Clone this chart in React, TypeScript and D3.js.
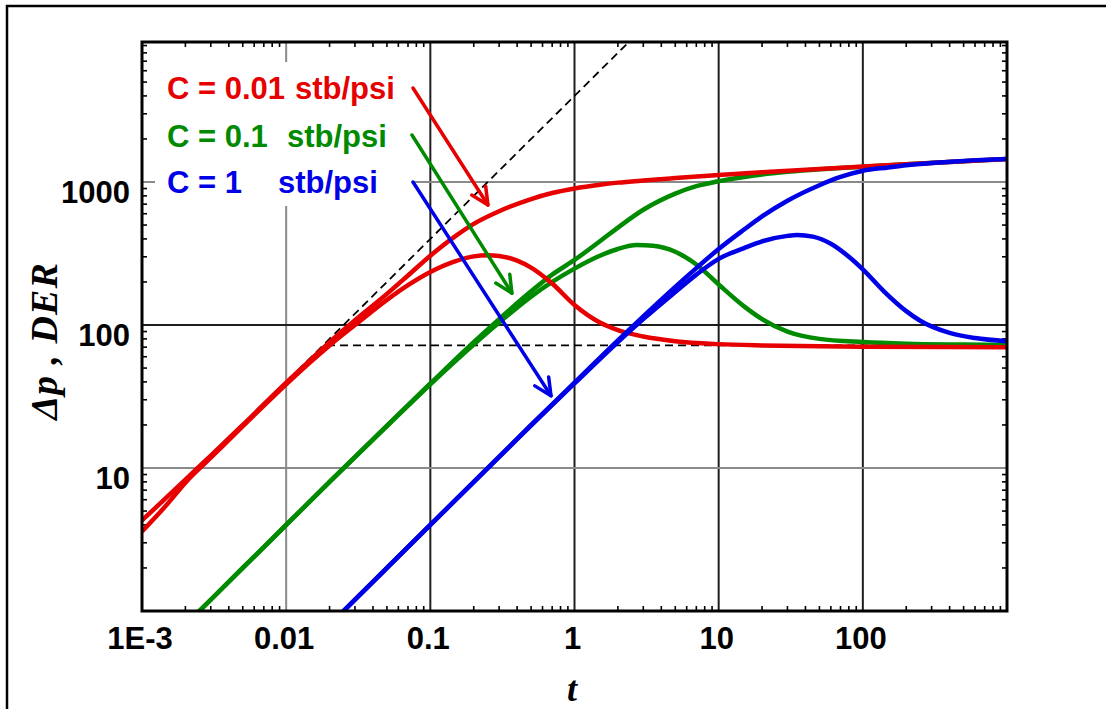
import React from "react";
import * as d3 from "d3";

// time ticks / value ticks
const xMajor = [0.001, 0.01, 0.1, 1, 10, 100];
const xLabels = ["1E-3", "0.01", "0.1", "1", "10", "100"];
const yMajor = [10, 100, 1000];
const yLabels = ["10", "100", "1000"];

// C = 0.01 stb/psi
const redPressure: [number, number][] = [
  [0.001, 4.3], [0.0015, 6.3], [0.002, 8.3], [0.003, 12.2], [0.005, 20], [0.01, 39.5],
  [0.015, 58], [0.02, 76], [0.03, 108], [0.05, 165], [0.07, 222], [0.1, 305], [0.15, 420],
  [0.2, 510], [0.3, 625], [0.5, 760], [0.7, 838], [1, 902], [1.5, 958], [2, 990], [3, 1025],
  [5, 1065], [10, 1118], [20, 1168], [50, 1233], [100, 1282], [200, 1332], [500, 1398], [1000, 1448],
];
const redDerivative: [number, number][] = [
  [0.001, 3.6], [0.0015, 5.6], [0.002, 7.9], [0.003, 11.8], [0.005, 19.6], [0.01, 38.5],
  [0.015, 56], [0.02, 72], [0.03, 100], [0.05, 150], [0.07, 190], [0.1, 235], [0.15, 280],
  [0.2, 302], [0.25, 308], [0.3, 304], [0.4, 282], [0.5, 252], [0.7, 195], [1, 138],
  [1.5, 104], [2, 92], [3, 83], [5, 77], [10, 73.5], [20, 72], [50, 71], [100, 70.5], [1000, 70],
];

// C = 0.1 stb/psi
const greenPressure: [number, number][] = [
  [0.002, 0.8], [0.005, 2], [0.01, 4], [0.02, 8], [0.05, 19.8], [0.1, 39], [0.2, 76],
  [0.3, 110], [0.5, 172], [0.7, 225], [1, 285], [1.5, 385], [2, 480], [3, 640], [5, 830],
  [7, 935], [10, 1015], [15, 1085], [20, 1130], [30, 1180], [50, 1230], [100, 1280],
  [200, 1330], [500, 1396], [1000, 1446],
];
const greenDerivative: [number, number][] = [
  [0.002, 0.8], [0.005, 2], [0.01, 4], [0.02, 8], [0.05, 19.6], [0.1, 38.5], [0.2, 73],
  [0.3, 104], [0.5, 158], [0.7, 200], [1, 248], [1.5, 305], [2, 340], [2.7, 362], [3.5, 358],
  [5, 325], [7, 265], [10, 192], [15, 135], [20, 110], [30, 90], [50, 80], [100, 76],
  [200, 74], [500, 73], [1000, 72.5],
];

// C = 1 stb/psi
const bluePressure: [number, number][] = [
  [0.02, 0.8], [0.05, 2], [0.1, 4], [0.2, 8], [0.5, 20], [1, 39.5], [2, 78], [3, 115],
  [5, 185], [7, 250], [10, 340], [15, 465], [20, 575], [30, 740], [50, 950], [70, 1085],
  [100, 1200], [150, 1265], [200, 1310], [300, 1358], [500, 1405], [1000, 1446],
];
const blueDerivative: [number, number][] = [
  [0.02, 0.8], [0.1, 4], [1, 39], [2, 76], [3, 110], [5, 170], [7, 225], [10, 290],
  [15, 345], [20, 385], [30, 420], [35, 426], [45, 415], [60, 370], [80, 300], [100, 245],
  [140, 172], [200, 125], [250, 107], [400, 88], [600, 81], [1000, 77],
];

// reference lines: unit slope storage and radial flow derivative
const unitSlope: [number, number][] = [[0.012, 48], [2.5, 10000]];
const radialLine: [number, number][] = [[0.0192, 72], [1000, 72]];

// arrows from labels to curves (t, value)
const arrows = [
  { from: [0.0758, 4540], to: [0.251, 690], color: "#e60000" },
  { from: [0.0746, 2130], to: [0.368, 167], color: "#008a00" },
  { from: [0.0758, 1000], to: [0.687, 32], color: "#0000e6" },
];

const RED = "#e60000";
const GREEN = "#008a00";
const BLUE = "#0000e6";

const left = 142, right = 1007, top = 42, bottom = 611;

const x = d3.scaleLog().domain([1e-3, 1e3]).range([left, right]);
const y = d3.scaleLog().domain([1, 9530]).range([bottom, top]);

const line = d3
  .line<[number, number]>()
  .x((d) => x(d[0]))
  .y((d) => y(d[1]))
  .curve(d3.curveMonotoneX);

function minorTicks(lo: number, hi: number) {
  const out: number[] = [];
  for (let e = Math.floor(Math.log10(lo)); e <= Math.ceil(Math.log10(hi)); e++) {
    for (let k = 2; k <= 9; k++) {
      const v = k * Math.pow(10, e);
      if (v > lo && v < hi) out.push(v);
    }
  }
  return out;
}

function Arrow({ from, to, color }: { from: number[]; to: number[]; color: string }) {
  const x1 = x(from[0]), y1 = y(from[1]), x2 = x(to[0]), y2 = y(to[1]);
  const ang = Math.atan2(y2 - y1, x2 - x1);
  const len = 19, spread = 0.45;
  const a1 = [x2 - len * Math.cos(ang - spread), y2 - len * Math.sin(ang - spread)];
  const a2 = [x2 - len * Math.cos(ang + spread), y2 - len * Math.sin(ang + spread)];
  return (
    <g stroke={color} strokeWidth={3.5} fill="none" strokeLinecap="round" strokeLinejoin="round">
      <line x1={x1} y1={y1} x2={x2} y2={y2} />
      <path d={`M${a1[0]},${a1[1]} L${x2},${y2} L${a2[0]},${a2[1]}`} />
    </g>
  );
}

export default function App() {
  const xm = minorTicks(1e-3, 1e3);
  const ym = minorTicks(1, 9530);
  const sans = "'Liberation Sans', Arial, sans-serif";
  const serif = "'Liberation Serif', 'Times New Roman', serif";
  const gray = "#8a8a8a";
  const dark = "#1e1e1e";

  return (
    <svg
      width={1106}
      height={709}
      style={{ position: "absolute", left: 0, top: 0, background: "#fff" }}
    >
      <defs>
        <clipPath id="plotClip">
          <rect x={left} y={top} width={right - left} height={bottom - top} />
        </clipPath>
      </defs>
      <rect width={1106} height={709} fill="#fff" />
      {/* outer frame */}
      <path d="M7,720 L7,6 L1120,6" fill="none" stroke="#000" strokeWidth={2.5} />

      {/* grid */}
      {xMajor.slice(1).map((v) => (
        <line key={"gx" + v} x1={x(v)} x2={x(v)} y1={top} y2={bottom}
          stroke={v === 0.01 ? gray : dark} strokeWidth={2} />
      ))}
      {yMajor.map((v) => (
        <line key={"gy" + v} x1={left} x2={right} y1={y(v)} y2={y(v)}
          stroke={v === 100 ? dark : gray} strokeWidth={2} />
      ))}

      {/* minor ticks inside frame */}
      <g stroke="#000" strokeWidth={1.6}>
        {xm.map((v) => (
          <g key={"xm" + v}>
            <line x1={x(v)} x2={x(v)} y1={bottom} y2={bottom - 5} />
            <line x1={x(v)} x2={x(v)} y1={top} y2={top + 5} />
          </g>
        ))}
        {ym.map((v) => (
          <g key={"ym" + v}>
            <line x1={left} x2={left + 5} y1={y(v)} y2={y(v)} />
            <line x1={right} x2={right - 5} y1={y(v)} y2={y(v)} />
          </g>
        ))}
      </g>

      {/* legend background */}
      <rect x={155} y={62} width={257} height={144} fill="#fff" />

      <g clipPath="url(#plotClip)">
        <path d={line(unitSlope) || ""} fill="none" stroke="#000" strokeWidth={1.8} strokeDasharray="8 5" />
        <path d={line(radialLine) || ""} fill="none" stroke="#000" strokeWidth={1.8} strokeDasharray="8 5" />
        {[
          { d: greenPressure, c: GREEN },
          { d: greenDerivative, c: GREEN },
          { d: redPressure, c: RED },
          { d: redDerivative, c: RED },
          { d: bluePressure, c: BLUE },
          { d: blueDerivative, c: BLUE },
        ].map((s, i) => (
          <path key={i} d={line(s.d) || ""} fill="none" stroke={s.c} strokeWidth={4.5} strokeLinejoin="round" />
        ))}
      </g>

      {arrows.map((a, i) => (
        <Arrow key={i} from={a.from} to={a.to} color={a.color} />
      ))}

      {/* frame */}
      <rect x={left} y={top} width={right - left} height={bottom - top} fill="none" stroke="#000" strokeWidth={3} />

      {/* legend text */}
      <g fontFamily={sans} fontWeight="bold" fontSize={31}>
        <text x={167} y={99} fill={RED}>C = 0.01</text>
        <text x={295} y={99} fill={RED}>stb/psi</text>
        <text x={167} y={147} fill={GREEN}>C = 0.1</text>
        <text x={287} y={147} fill={GREEN}>stb/psi</text>
        <text x={167} y={193} fill={BLUE}>C = 1</text>
        <text x={278} y={193} fill={BLUE}>stb/psi</text>
      </g>

      {/* tick labels */}
      <g fontFamily={sans} fontWeight="bold" fontSize={31} fill="#000">
        {xMajor.map((v, i) => (
          <text key={"xl" + v} x={x(v) - 2} y={649} textAnchor="middle">{xLabels[i]}</text>
        ))}
        {yMajor.map((v, i) => (
          <text key={"yl" + v} x={130} y={y(v) + 21} textAnchor="end">{yLabels[i]}</text>
        ))}
      </g>

      {/* axis titles */}
      <text x={572} y={701} textAnchor="middle" fontFamily={serif} fontStyle="italic" fontWeight="bold" fontSize={36}>t</text>
      <text transform="translate(57,341) rotate(-90)" textAnchor="middle" fontFamily={serif}
        fontStyle="italic" fontWeight="bold" fontSize={38} letterSpacing={1}>Δp , DER</text>
    </svg>
  );
}
